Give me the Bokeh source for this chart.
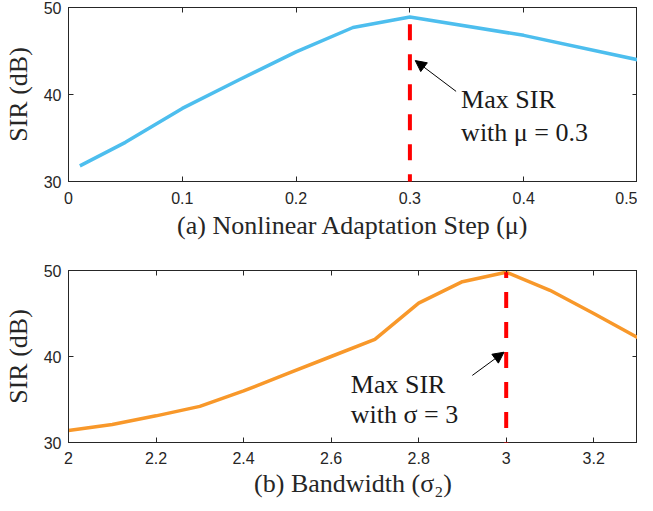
from bokeh.plotting import figure
from bokeh.layouts import column
from bokeh.models import (Range1d, FixedTicker, LinearAxis, CustomJSTickFormatter,
                          Arrow, NormalHead)
from bokeh.core.properties import value
from bokeh.embed import file_html
from bokeh.resources import INLINE

# ---- data ----
mu = [0.01, 0.05, 0.10, 0.15, 0.20, 0.25, 0.30, 0.40, 0.50]
sir_mu = [31.8, 34.5, 38.4, 41.7, 44.9, 47.7, 48.9, 46.8, 44.0]

sigma = [2.0, 2.1, 2.2, 2.3, 2.4, 2.5, 2.6, 2.7, 2.8, 2.9, 3.0, 3.1, 3.2, 3.3]
sir_sigma = [31.4, 32.1, 33.1, 34.2, 36.0, 38.0, 40.0, 42.0, 46.2, 48.7, 49.8, 47.7, 45.0, 42.2]

mu_ticks = [0, 0.1, 0.2, 0.3, 0.4, 0.5]
sigma_ticks = [2.0, 2.2, 2.4, 2.6, 2.8, 3.0, 3.2]
y_ticks = [30, 40, 50]

best_mu = 0.3
best_sigma = 3.0

AX = "#262626"
SERIF = "Liberation Serif"
SANS = "Liberation Sans"


def blank_axis(ticks):
    return LinearAxis(ticker=FixedTicker(ticks=ticks),
                      formatter=CustomJSTickFormatter(code="return '';"),
                      major_tick_in=5, major_tick_out=0, minor_tick_line_color=None,
                      axis_line_color=AX, major_tick_line_color=AX,
                      major_label_standoff=0, axis_label_standoff=0,
                      major_label_text_font_size="1px")


def style(p, xticks, xlabel, s1, s2):
    p.xaxis.axis_label = xlabel
    p.yaxis.axis_label = "SIR (dB)"
    for ax in p.xaxis + p.yaxis:
        ax.axis_line_color = AX
        ax.major_tick_line_color = AX
        ax.major_tick_in = 5
        ax.major_tick_out = 0
        ax.minor_tick_line_color = None
        ax.major_label_text_font = SANS
        ax.major_label_text_font_size = "16px"
        ax.major_label_text_color = AX
        ax.axis_label_text_font = SERIF
        ax.axis_label_text_font_size = "26px"
        ax.axis_label_text_font_style = "normal"
        ax.axis_label_text_color = AX
        ax.formatter = CustomJSTickFormatter(code="return Number(tick.toFixed(3)).toString();")
    p.xaxis.ticker = FixedTicker(ticks=xticks)
    p.yaxis.ticker = FixedTicker(ticks=y_ticks)
    p.xaxis.major_label_standoff = s1
    p.yaxis.major_label_standoff = 7
    p.xaxis.axis_label_standoff = s2
    p.yaxis.axis_label_standoff = 8
    p.add_layout(blank_axis(xticks), "above")
    p.add_layout(blank_axis(y_ticks), "right")
    p.grid.visible = False
    p.outline_line_color = AX


# ---- top panel ----
p1 = figure(width=637, height=261,
            x_range=Range1d(0, 0.5), y_range=Range1d(30, 50),
            output_backend="svg", toolbar_location=None,
            min_border_left=60, min_border_right=0, min_border_top=7, min_border_bottom=80)
p1.line(mu, sir_mu, line_color="#4DBEEE", line_width=3.5)
p1.add_layout(Arrow(end=None, x_start=best_mu, y_start=29.0, x_end=best_mu,
                    y_end=max(sir_mu), line_color="#FF0000", line_width=4,
                    line_dash="16 14"))
p1.add_layout(Arrow(end=NormalHead(size=11, fill_color="black", line_color="black"),
                    x_start=0.3406, y_start=40.36, x_end=0.3047, y_end=43.9,
                    line_color="black", line_width=1))
p1.text(x=[0.345, 0.345], y=[39.4, 35.6], text=["Max SIR", "with \u03bc = 0.3"],
        text_font=value(SERIF), text_font_size="26px", text_color="#1a1a1a",
        text_baseline="middle", text_align="left")
style(p1, mu_ticks, "(a) Nonlinear Adaptation Step (\u03bc)", 10, 4)

# ---- bottom panel ----
p2 = figure(width=637, height=241,
            x_range=Range1d(2, 3.3), y_range=Range1d(30, 50),
            output_backend="svg", toolbar_location=None,
            min_border_left=60, min_border_right=0, min_border_top=9, min_border_bottom=60)
p2.line(sigma, sir_sigma, line_color="#F8982A", line_width=3.5)
p2.add_layout(Arrow(end=None, x_start=best_sigma, y_start=28.2, x_end=best_sigma,
                    y_end=max(sir_sigma), line_color="#FF0000", line_width=4,
                    line_dash="16 14"))
p2.add_layout(Arrow(end=NormalHead(size=11, fill_color="black", line_color="black"),
                    x_start=2.9226, y_start=37.8, x_end=2.995, y_end=40.5,
                    line_color="black", line_width=1))
p2.text(x=[2.645, 2.645], y=[36.7, 33.3], text=["Max SIR", "with \u03c3 = 3"],
        text_font=value(SERIF), text_font_size="26px", text_color="#1a1a1a",
        text_baseline="middle", text_align="left")
style(p2, sigma_ticks, "(b) Bandwidth (\u03c3\u2082)", 9, 2)

layout = column(p1, p2, spacing=0)
open("out.html", "w").write(file_html(layout, INLINE))
